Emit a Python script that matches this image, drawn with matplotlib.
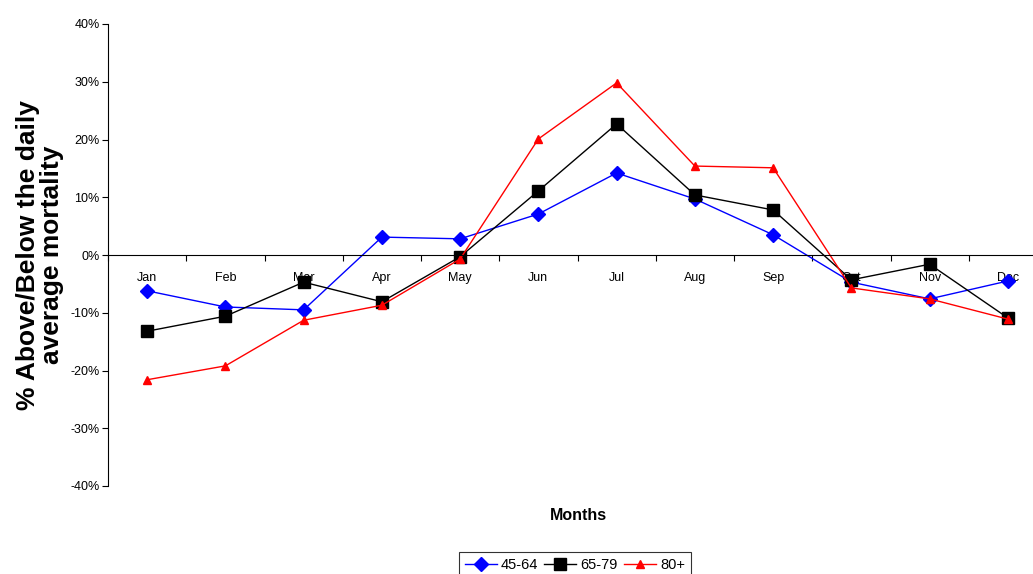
import matplotlib.pyplot as plt
import numpy as np

plt.rcParams['font.family'] = ['Liberation Sans', 'DejaVu Sans']

months = ['Jan', 'Feb', 'Mar', 'Apr', 'May', 'Jun', 'Jul', 'Aug', 'Sep', 'Oct', 'Nov', 'Dec']
age_45_64 = [-6.2, -9.0, -9.5, 3.1, 2.8, 7.1, 14.2, 9.7, 3.5, -4.7, -7.6, -4.5]
age_65_79 = [-13.2, -10.6, -4.7, -8.1, -0.3, 11.1, 22.7, 10.4, 7.8, -4.3, -1.6, -10.9]
age_80_plus = [-21.6, -19.2, -11.3, -8.7, -0.7, 20.1, 29.8, 15.4, 15.1, -5.7, -7.6, -11.1]

fig = plt.figure(figsize=(10.33, 5.74), dpi=100)
ax = fig.add_axes([108/1033, 1 - 486/574, 939/1033, 462/574])

x = np.arange(len(months))
l1, = ax.plot(x, age_45_64, color='#0000ff', lw=1, marker='D', ms=7, label='45-64')
l2, = ax.plot(x, age_65_79, color='black', lw=1, marker='s', ms=9, label='65-79')
l3, = ax.plot(x, age_80_plus, color='#ff0000', lw=1, marker='^', ms=6, label='80+')

ax.set_xlim(-0.5, 11.5)
ax.set_ylim(-40, 40)
ax.set_yticks(np.arange(-40, 41, 10))
ax.set_yticklabels(['%d%%' % v for v in np.arange(-40, 41, 10)], fontsize=9)
ax.tick_params(axis='y', direction='out', length=4, width=0.8, pad=2)

ax.spines['top'].set_visible(False)
ax.spines['right'].set_visible(False)
ax.spines['bottom'].set_position(('data', 0))
ax.spines['bottom'].set_linewidth(0.8)
ax.spines['left'].set_linewidth(0.8)

ax.set_xticks(x)
ax.set_xticklabels(months, fontsize=9)
ax.tick_params(axis='x', which='major', length=0, pad=12)
ax.set_xticks(np.arange(-0.5, 12, 1), minor=True)
ax.tick_params(axis='x', which='minor', direction='out', length=4, width=0.8)

fig.text(40/1033, 1 - 255/574, '% Above/Below the daily\naverage mortality', fontsize=19,
         fontweight='bold', rotation=90, ha='center', va='center', linespacing=0.95)
fig.text(578/1033, 1 - 516/574, 'Months', fontsize=11.5, fontweight='bold', ha='center', va='center')

leg = fig.legend(handles=[l1, l2, l3], loc='upper center', bbox_to_anchor=(575/1033, 1 - 545/574),
                 ncol=3, fontsize=10.5, frameon=True, fancybox=False, edgecolor='black',
                 handlelength=2.2, handletextpad=0.3, columnspacing=0.4, borderpad=0.4)
leg.get_frame().set_linewidth(0.8)

fig.savefig('out.png', dpi=100)
